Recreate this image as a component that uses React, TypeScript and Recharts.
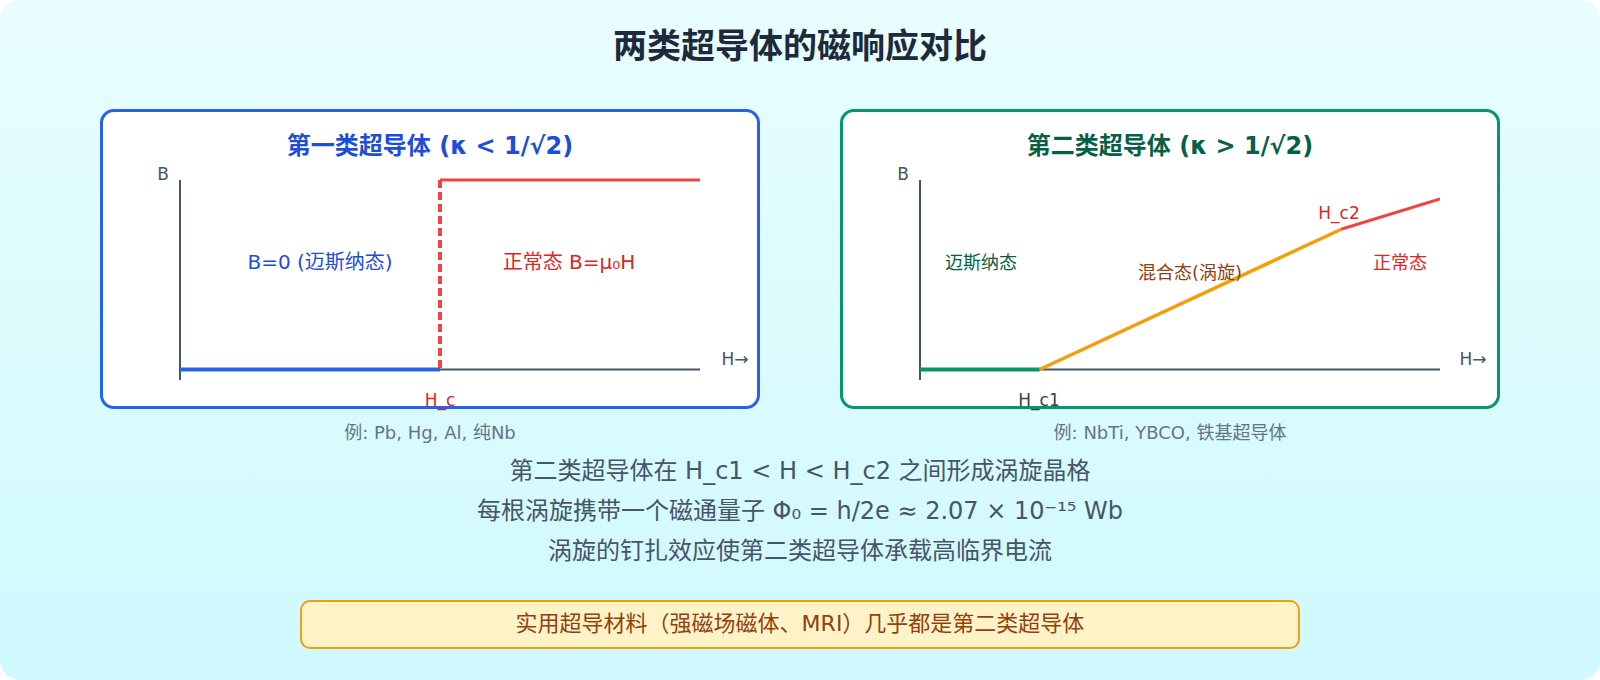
import React from 'react'
import { LineChart, Line, XAxis, YAxis, ReferenceLine } from 'recharts'

// ── data (H in arbitrary units 0..10, B normalised 0..1) ──────────
const type1Meissner = [
  { H: 0, B: 0 },
  { H: 5, B: 0 },
]
const type1Jump = [
  { H: 5, B: 1 },
  { H: 5, B: 0 },
]
const type1Normal = [
  { H: 5, B: 1 },
  { H: 10, B: 1 },
]

const type2Meissner = [
  { H: 0, B: 0 },
  { H: 2.3, B: 0 },
]
const type2Mixed = [
  { H: 2.3, B: 0 },
  { H: 8.1, B: 0.74 },
]
const type2Normal = [
  { H: 8.1, B: 0.74 },
  { H: 10, B: 0.9 },
]

const noteLines = [
  '第二类超导体在 H_c1 < H < H_c2 之间形成涡旋晶格',
  '每根涡旋携带一个磁通量子 Φ₀ = h/2e ≈ 2.07 × 10⁻¹⁵ Wb',
  '涡旋的钉扎效应使第二类超导体承载高临界电流',
]

const FONT = "'DejaVu Sans', 'Noto Sans CJK SC', sans-serif"
const AXIS = '#475569'
const B_MIN = -0.0554
const B_MAX = 1.0106

interface TxtProps {
  x: number
  y: number
  size: number
  color: string
  bold?: boolean
  children: React.ReactNode
}

function Txt({ x, y, size, color, bold, children }: TxtProps) {
  return (
    <div
      style={{
        position: 'absolute',
        left: x,
        top: y,
        transform: 'translate(-50%, -50%)',
        fontSize: size,
        color,
        fontWeight: bold ? 700 : 400,
        whiteSpace: 'nowrap',
        lineHeight: 1,
      }}
    >
      {children}
    </div>
  )
}

function Panel({ x, border }: { x: number; border: string }) {
  return (
    <div
      style={{
        position: 'absolute',
        left: x,
        top: 109,
        width: 660,
        height: 300,
        boxSizing: 'border-box',
        border: `3px solid ${border}`,
        borderRadius: 14,
        background: '#fff',
      }}
    />
  )
}

interface SeriesProps {
  data: { H: number; B: number }[]
  color: string
  width: number
  dash?: string
}

function BHChart({ left, series }: { left: number; series: SeriesProps[] }) {
  return (
    <div style={{ position: 'absolute', left, top: 109 }}>
      <LineChart width={660} height={300} margin={{ top: 69, right: 60, bottom: 29, left: 80 }}>
        <XAxis type="number" dataKey="H" domain={[0, 10]} allowDataOverflow hide />
        <YAxis type="number" dataKey="B" domain={[B_MIN, B_MAX]} allowDataOverflow hide />
        {/* axes drawn as reference lines so the B axis can run below B=0 */}
        <ReferenceLine
          segment={[
            { x: 0, y: B_MIN },
            { x: 0, y: 1 },
          ]}
          stroke={AXIS}
          strokeWidth={2}
        />
        <ReferenceLine y={0} stroke={AXIS} strokeWidth={2} />
        {series.map((s, i) => (
          <Line
            key={i}
            data={s.data}
            dataKey="B"
            type="linear"
            stroke={s.color}
            strokeWidth={s.width}
            strokeDasharray={s.dash}
            dot={false}
            activeDot={false}
            isAnimationActive={false}
          />
        ))}
      </LineChart>
    </div>
  )
}

export default function App() {
  return (
    <div
      style={{
        position: 'absolute',
        left: 0,
        top: 0,
        width: 1600,
        height: 680,
        borderRadius: 20,
        background: 'linear-gradient(180deg, #e8fdfe 0%, #cff9fd 100%)',
        fontFamily: FONT,
        overflow: 'hidden',
      }}
    >
      <Txt x={800} y={46} size={34} color="#1e293b" bold>
        两类超导体的磁响应对比
      </Txt>

      {/* ── Type I ─────────────────────────── */}
      <Panel x={100} border="#2563eb" />
      <BHChart
        left={100}
        series={[
          { data: type1Meissner, color: '#2563eb', width: 4 },
          { data: type1Jump, color: '#ef4444', width: 4, dash: '8 4' },
          { data: type1Normal, color: '#ef4444', width: 3 },
        ]}
      />
      <Txt x={430} y={146} size={24} color="#1d4ed8" bold>
        第一类超导体 (κ &lt; 1/√2)
      </Txt>
      <Txt x={163} y={174} size={17} color={AXIS}>B</Txt>
      <Txt x={735} y={359} size={17} color={AXIS}>H→</Txt>
      <Txt x={320} y={262} size={20} color="#1d4ed8">B=0 (迈斯纳态)</Txt>
      <Txt x={569} y={262} size={20} color="#dc2626">正常态 B=μ₀H</Txt>
      <Txt x={440} y={400} size={17} color="#dc2626">H_c</Txt>
      <Txt x={430} y={433} size={18} color="#64748b">例: Pb, Hg, Al, 纯Nb</Txt>

      {/* ── Type II ────────────────────────── */}
      <Panel x={840} border="#059669" />
      <BHChart
        left={840}
        series={[
          { data: type2Meissner, color: '#059669', width: 4 },
          { data: type2Mixed, color: '#f59e0b', width: 3.5 },
          { data: type2Normal, color: '#ef4444', width: 3 },
        ]}
      />
      <Txt x={1170} y={146} size={24} color="#065f46" bold>
        第二类超导体 (κ &gt; 1/√2)
      </Txt>
      <Txt x={903} y={174} size={17} color={AXIS}>B</Txt>
      <Txt x={1473} y={359} size={17} color={AXIS}>H→</Txt>
      <Txt x={981} y={263} size={18} color="#065f46">迈斯纳态</Txt>
      <Txt x={1190} y={273} size={18} color="#92400e">混合态(涡旋)</Txt>
      <Txt x={1400} y={263} size={18} color="#dc2626">正常态</Txt>
      <Txt x={1339} y={213} size={17} color="#dc2626">H_c2</Txt>
      <Txt x={1039} y={400} size={17} color="#334155">H_c1</Txt>
      <Txt x={1170} y={433} size={18} color="#64748b">例: NbTi, YBCO, 铁基超导体</Txt>

      {/* ── notes ──────────────────────────── */}
      {noteLines.map((t, i) => (
        <Txt key={i} x={800} y={471 + i * 40} size={24} color="#475569">
          {t}
        </Txt>
      ))}

      <div
        style={{
          position: 'absolute',
          left: 300,
          top: 600,
          width: 1000,
          height: 49,
          boxSizing: 'border-box',
          border: '2px solid #f59e0b',
          borderRadius: 10,
          background: '#fef3c7',
        }}
      />
      <Txt x={800} y={624} size={22} color="#92400e">
        实用超导材料（强磁场磁体、MRI）几乎都是第二类超导体
      </Txt>
    </div>
  )
}
